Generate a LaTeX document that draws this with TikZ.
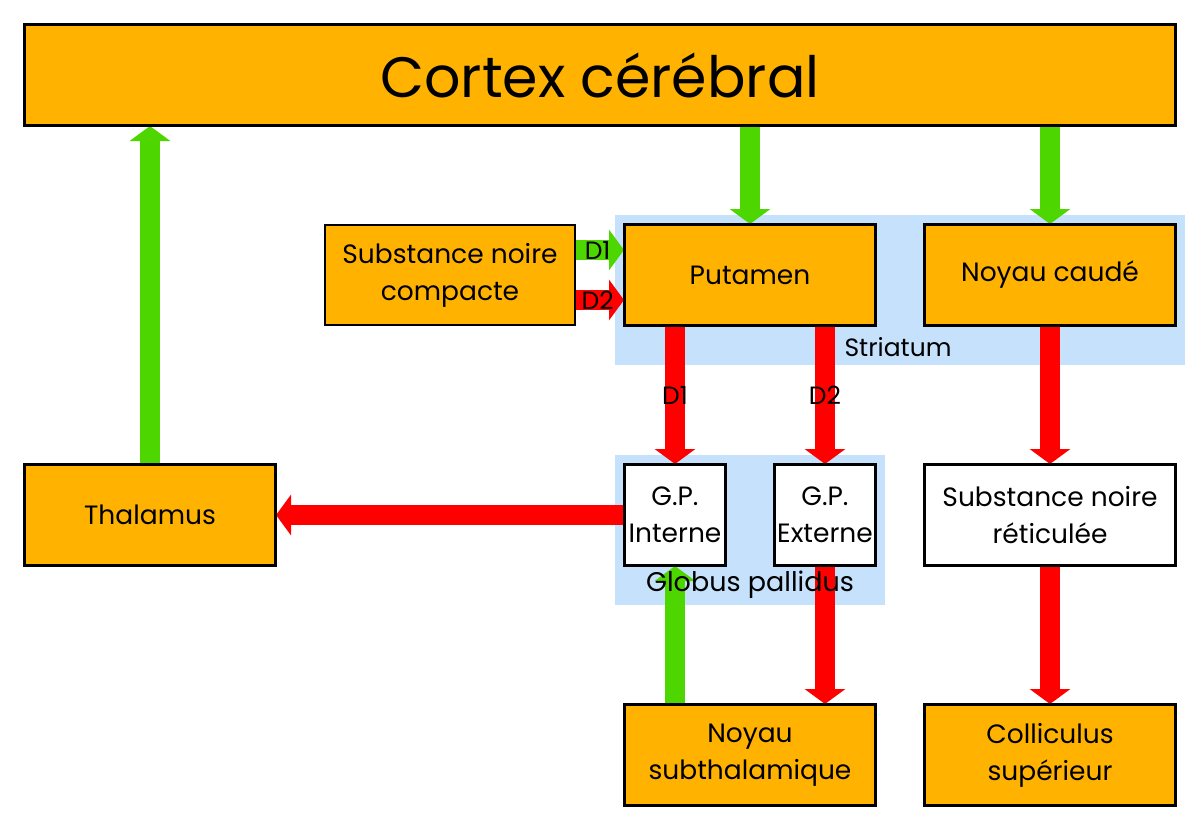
\documentclass[tikz,border=0pt]{standalone}
\usepackage{fontspec}
\setmainfont{Poppins}
\usetikzlibrary{arrows.meta}
\definecolor{boxorange}{RGB}{255,179,0}
\definecolor{exgreen}{RGB}{77,214,0}
\definecolor{inred}{RGB}{255,0,0}
\definecolor{zoneblue}{RGB}{197,225,252}
\tikzset{
  box/.style={draw=black, line width=2pt, fill=boxorange, minimum width=250pt, minimum height=100pt,
    inner sep=0pt, align=center, font=\fontsize{26.5}{37}\selectfont},
  whitebox/.style={box, fill=white},
  narrowbox/.style={whitebox, minimum width=100pt},
  zone/.style={fill=zoneblue, draw=none},
  fat/.style={line width=20pt, -{Triangle[width=40pt,length=15pt]}},
  excite/.style={fat, draw=exgreen},
  inhibit/.style={fat, draw=inred},
  lbl/.style={font=\fontsize{25}{30}\selectfont, inner sep=0pt},
}
\begin{document}
\begin{tikzpicture}[x=1pt,y=-1pt]
\useasboundingbox (0,0) rectangle (1200,830);
% zones
\fill[zone] (615,215) rectangle (1185,365);
\fill[zone] (615,455) rectangle (885,605);
% boxes
\node[box, minimum width=1150pt, font=\fontsize{57}{60}\selectfont] (cortex) at (600,75) {Cortex cérébral};
\node[box] (snc) at (450,275) {Substance noire\\compacte};
\node[box] (put) at (750,275) {Putamen};
\node[box] (caud) at (1050,275) {Noyau caudé};
\node[box] (thal) at (150,515) {Thalamus};
\node[narrowbox] (gpi) at (675,515) {G.P.\\Interne};
\node[narrowbox] (gpe) at (825,515) {G.P.\\Externe};
\node[whitebox] (snr) at (1050,515) {Substance noire\\réticulée};
\node[box] (stn) at (750,755) {Noyau\\subthalamique};
\node[box] (coll) at (1050,755) {Colliculus\\supérieur};
% connectors
\draw[excite] (thal.north) -- (thal.north |- cortex.south);
\draw[excite] (put.north |- cortex.south) -- (put.north);
\draw[excite] (caud.north |- cortex.south) -- (caud.north);
\draw[excite] ([yshift=25pt]snc.east) -- ([yshift=25pt]put.west) node[lbl, pos=0.45] {D1};
\draw[inhibit] ([yshift=-25pt]snc.east) -- ([yshift=-25pt]put.west) node[lbl, pos=0.45] {D2};
\draw[inhibit] (gpi.north |- put.south) -- (gpi.north) node[lbl, pos=0.5] {D1};
\draw[inhibit] (gpe.north |- put.south) -- (gpe.north) node[lbl, pos=0.5] {D2};
\draw[inhibit] (caud.south) -- (snr.north);
\draw[inhibit] (gpi.west) -- (thal.east);
\draw[excite] (gpi.south |- stn.north) -- (gpi.south);
\draw[inhibit] (gpe.south) -- (gpe.south |- stn.north);
\draw[inhibit] (snr.south) -- (coll.north);
% redraw outlines of the boxes that arrowheads touch
\foreach \n in {cortex,put,caud,gpi,gpe,thal,snr,coll,stn}{\draw[line width=2pt] (\n.north west) rectangle (\n.south east);}
% zone labels
\node[lbl] (strlbl) at (898,347) {Striatum};
\node[lbl, font=\fontsize{27}{30}\selectfont] (gplbl) at (750,585) {Globus pallidus};
\end{tikzpicture}
\end{document}
